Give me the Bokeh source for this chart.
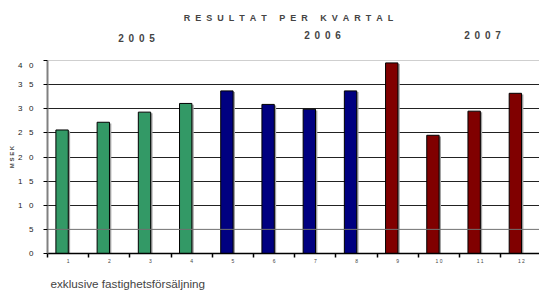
from bokeh.plotting import figure
from bokeh.layouts import column
from bokeh.models import FixedTicker, Label, Span
from bokeh.embed import file_html
from bokeh.resources import INLINE

quarters = list(range(1, 13))
quarter_labels = [str(q) for q in quarters]
values = [25.6, 27.2, 29.3, 31.1, 33.7, 30.9, 29.9, 33.7, 39.5, 24.5, 29.5, 33.2]
bar_colors = ["#339966"] * 4 + ["#000080"] * 4 + ["#800000"] * 4
years = ["2005", "2006", "2007"]
y_ticks = [0, 5, 10, 15, 20, 25, 30, 35, 40]
title_words = ["RESULTAT", "PER", "KVARTAL"]
footer_text = "exklusive fastighetsförsäljning"
y_label = "M S E K"

FONT = "Liberation Sans"
NB = "\u00a0"
W = 539
LEFT = 47
BAR_SHIFT = -0.146  # bars sit left of the category centre, as in the original

title_text = (NB * 5).join((NB * 2).join(w) for w in title_words)


def blank(h):
    f = figure(width=W, height=h, x_range=(LEFT, W), y_range=(0, h),
               output_backend="svg", toolbar_location=None,
               min_border=0, min_border_left=0, min_border_right=0,
               min_border_top=0, min_border_bottom=0)
    f.axis.visible = False
    f.grid.visible = False
    f.outline_line_color = None
    f.background_fill_color = "white"
    f.border_fill_color = "white"
    return f


# ---- header with title and year labels (x in page pixels; frames are aligned)
head = blank(60)
head.add_layout(Label(x=288, y=43, text=title_text,
                      text_font=FONT, text_font_size="9px", text_font_style="bold",
                      text_align="center", text_baseline="middle"))
year_x = [136, 322, 482]
year_y = [22, 25, 25]
for yr, xx, yy in zip(years, year_x, year_y):
    head.add_layout(Label(x=xx, y=yy, text=(NB + "\u2009").join(yr),
                          text_font=FONT, text_font_size="10px", text_font_style="bold",
                          text_align="center", text_baseline="middle"))

# ---- main bar chart
p = figure(width=W, height=212, x_range=(0.5, 12.44), y_range=(0, 40),
           output_backend="svg", toolbar_location=None,
           min_border_left=LEFT, min_border_right=0, min_border_top=0, min_border_bottom=19)
p.outline_line_color = None
p.background_fill_color = "white"
p.border_fill_color = "white"

p.xgrid.grid_line_color = None
p.ygrid.ticker = FixedTicker(ticks=y_ticks[2:-1])
p.ygrid.grid_line_color = "#222222"
p.ygrid.grid_line_width = 1
p.add_layout(Span(location=y_ticks[-1], dimension="width", line_color="#a0a0a0", line_width=1))
p.add_layout(Span(location=y_ticks[1], dimension="width", line_color="#707070", line_width=1))

# shadows
p.vbar(x=[q + BAR_SHIFT + 0.045 for q in quarters], top=[v - 0.25 for v in values], width=0.3,
       fill_color="#a0a0a0", line_color=None)
p.vbar(x=[q + BAR_SHIFT for q in quarters], top=values, width=0.3, fill_color=bar_colors,
       line_color="black", line_width=1)

p.xaxis.ticker = FixedTicker(ticks=quarters, minor_ticks=[q + 0.5 for q in [0] + quarters])
p.xaxis.major_label_overrides = {q: " ".join(lbl) for q, lbl in zip(quarters, quarter_labels)}
p.xaxis.major_tick_line_color = None
p.xaxis.major_tick_out = 0
p.xaxis.major_tick_in = 0
p.xaxis.minor_tick_line_color = "black"
p.xaxis.minor_tick_line_width = 1.5
p.xaxis.minor_tick_out = 4
p.xaxis.minor_tick_in = 0
p.xaxis.axis_line_color = "black"
p.xaxis.axis_line_width = 1.5
p.xaxis.major_label_text_font = FONT
p.xaxis.major_label_text_font_size = "5px"
p.xaxis.major_label_text_color = "#444444"
p.xaxis.major_label_standoff = 0

p.yaxis.ticker = FixedTicker(ticks=y_ticks)
p.yaxis.major_label_overrides = {t: (NB * 3).join(str(t)) for t in y_ticks}
p.yaxis.minor_tick_line_color = None
p.yaxis.major_tick_out = 4
p.yaxis.major_tick_in = 0
p.yaxis.major_tick_line_color = "black"
p.yaxis.axis_line_color = "#808080"
p.yaxis.axis_line_width = 2
p.yaxis.major_label_text_font = FONT
p.yaxis.major_label_text_font_size = "8px"
p.yaxis.major_label_text_color = "#222222"
p.yaxis.major_label_standoff = 10
p.yaxis.axis_label = y_label
p.yaxis.axis_label_text_font = FONT
p.yaxis.axis_label_text_font_size = "6px"
p.yaxis.axis_label_text_font_style = "bold"
p.yaxis.axis_label_standoff = 0

# ---- footer
foot = blank(26)
foot.add_layout(Label(x=50, y=15, text=footer_text,
                      text_font=FONT, text_font_size="11.7px",
                      text_align="left", text_baseline="middle"))

layout = column(head, p, foot, spacing=0)
open("out.html", "w").write(file_html(layout, INLINE))
